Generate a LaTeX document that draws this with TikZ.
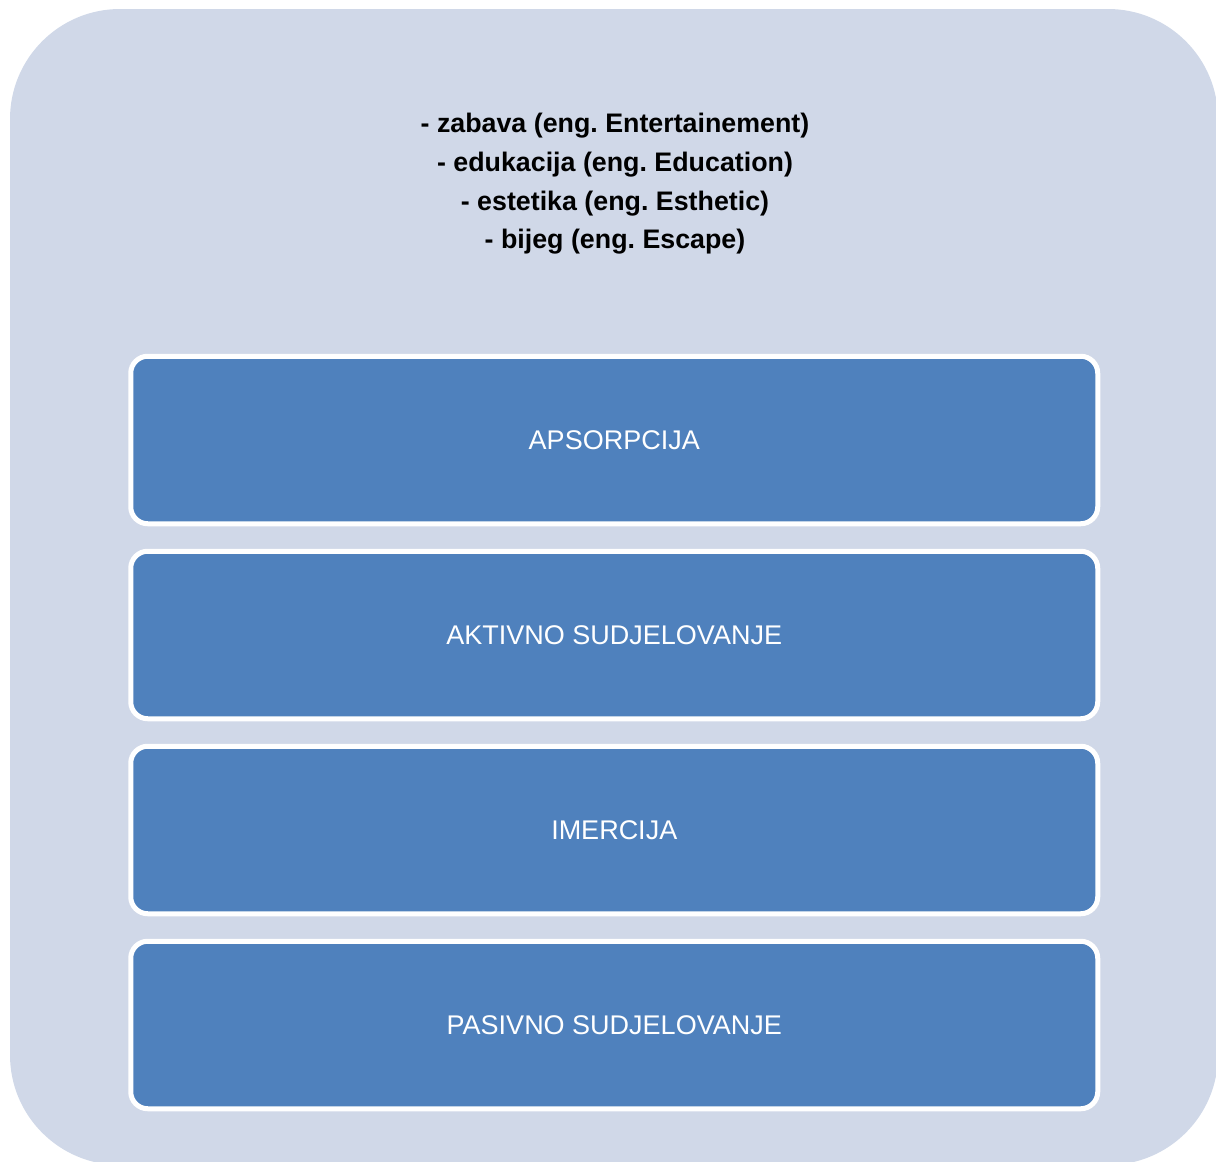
\documentclass[tikz,border=0pt]{standalone}
\usepackage{fontspec}
\setmainfont{Liberation Sans}
\usetikzlibrary{positioning}
\definecolor{panelgray}{HTML}{D0D8E8}
\definecolor{levelblue}{HTML}{4F81BD}
\frenchspacing
\tikzset{
    % Outer panel
    panel/.style = {fill=panelgray, rounded corners=110pt},
    % Level box
    node_lvl/.style = {rectangle, rounded corners=17pt, draw=white, line width=5pt, fill=levelblue, text=white,
        minimum width=967pt, minimum height=167.5pt, inner sep=0pt, font=\fontsize{27}{31}\selectfont},
    % Header list
    node_head/.style = {align=center, inner sep=0pt, font=\fontsize{26.8}{38.7}\selectfont\bfseries}
}

\begin{document}
\begin{tikzpicture}[x=1pt, y=-1pt, node distance=22.5pt]

        \useasboundingbox (0,0) rectangle (1216,1162);
        \fill[panel] (10,9) rectangle (1218,1165);

        \node[node_head] (head) at (615,184) {- zabava (eng. Entertainement)\\- edukacija (eng. Education)\\- estetika (eng. Esthetic)\\- bijeg (eng. Escape)};

        \node[node_lvl] (apsorpcija) at (614.25,440) {APSORPCIJA};
        \node[node_lvl, below=of apsorpcija] (aktivno) {AKTIVNO SUDJELOVANJE};
        \node[node_lvl, below=of aktivno] (imercija) {IMERCIJA};
        \node[node_lvl, below=of imercija] (pasivno) {PASIVNO SUDJELOVANJE};
    \end{tikzpicture}
\end{document}
